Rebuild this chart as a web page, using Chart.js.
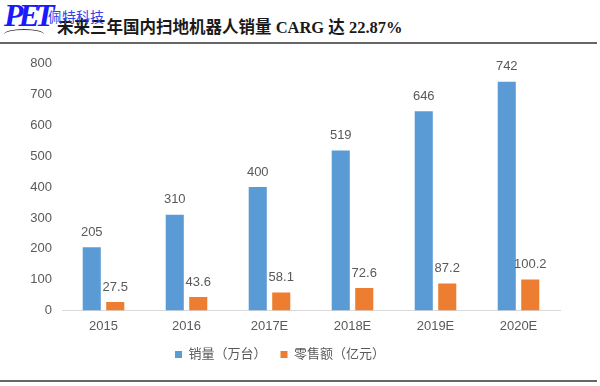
<!DOCTYPE html>
<html>
<head>
<meta charset="utf-8">
<script src="https://cdn.jsdelivr.net/npm/chart.js@4"></script>
<style>
  body { margin: 0; background: #fff; }
  #page { position: relative; width: 600px; height: 386px; overflow: hidden; background: #fff; }
  #title { position: absolute; left: 57px; top: 14px; font: bold 16.5px "Liberation Serif", "Noto Sans CJK SC"; color: #1a1a1a; white-space: nowrap; }
  #topline { position: absolute; left: 0; top: 42px; width: 597px; height: 2px; background: #666; }
  #bottomline { position: absolute; left: 0; top: 380px; width: 597px; height: 2px; background: #666; }
  #logo { position: absolute; left: 4px; top: -3px; font: italic bold 32px "Liberation Serif"; color: #1a1aff; letter-spacing: -5px; }
  #logocn { position: absolute; left: 48px; top: 6px; font: 14px "Noto Sans CJK SC"; color: #3344ee; }
  #arc { position: absolute; left: 4px; top: 29px; width: 40px; height: 10px; border-top: 1.5px solid #333; border-radius: 50% 50% 0 0; }
  #wrap { position: absolute; left: 0; top: 46px; }
</style>
</head>
<body>
<div id="page">
  <div id="title">未来三年国内扫地机器人销量 CARG 达 22.87%</div>
  <div id="logo">PET</div>
  <div id="logocn">佩特科技</div>
  <div id="arc"></div>
  <div id="topline"></div>
  <div id="wrap"><canvas id="c" width="600" height="325"></canvas></div>
  <div id="bottomline"></div>
</div>
<script>
const years = ['2015', '2016', '2017E', '2018E', '2019E', '2020E'];
const sales = [205, 310, 400, 519, 646, 742];
const revenue = [27.5, 43.6, 58.1, 72.6, 87.2, 100.2];
const seriesNames = ['销量（万台）', '零售额（亿元）'];

const font = { family: '"Liberation Sans", "Noto Sans CJK SC"', size: 13 };

const valueLabels = {
    id: 'valueLabels',
    afterDatasetsDraw(chart) {
        const ctx = chart.ctx;
        ctx.save();
        ctx.font = '13px "Liberation Sans"';
        ctx.fillStyle = '#595959';
        ctx.textAlign = 'center';
        ctx.textBaseline = 'middle';
        chart.data.datasets.forEach((ds, i) => {
            chart.getDatasetMeta(i).data.forEach((bar, j) => {
                ctx.fillText(String(ds.data[j]), bar.x, bar.y - 15);
            });
        });
        ctx.restore();
    }
};

new Chart(document.getElementById('c'), {
    type: 'bar',
    data: {
        labels: years,
        datasets: [
            { label: seriesNames[0], data: sales, backgroundColor: '#5B9BD5' },
            { label: seriesNames[1], data: revenue, backgroundColor: '#ED7D31' }
        ]
    },
    options: {
        responsive: false,
        devicePixelRatio: 1,
        animation: false,
        categoryPercentage: 0.566,
        barPercentage: 0.77,
        layout: { padding: { top: 16, right: 40, bottom: 0, left: 0 } },
        plugins: {
            tooltip: { enabled: false },
            legend: {
                position: 'bottom',
                labels: { boxWidth: 7, boxHeight: 7, color: '#595959', font: font, padding: 14 }
            }
        },
        scales: {
            x: {
                grid: { display: false },
                border: { display: true, color: '#d9d9d9' },
                ticks: { color: '#595959', font: font, padding: 0 }
            },
            y: {
                min: 0,
                max: 800,
                afterFit(s) { s.width = 62; },
                grid: { display: false, drawTicks: false },
                border: { display: false },
                ticks: { stepSize: 100, color: '#595959', font: font, padding: 10 }
            }
        }
    },
    plugins: [valueLabels]
});
</script>
</body>
</html>
